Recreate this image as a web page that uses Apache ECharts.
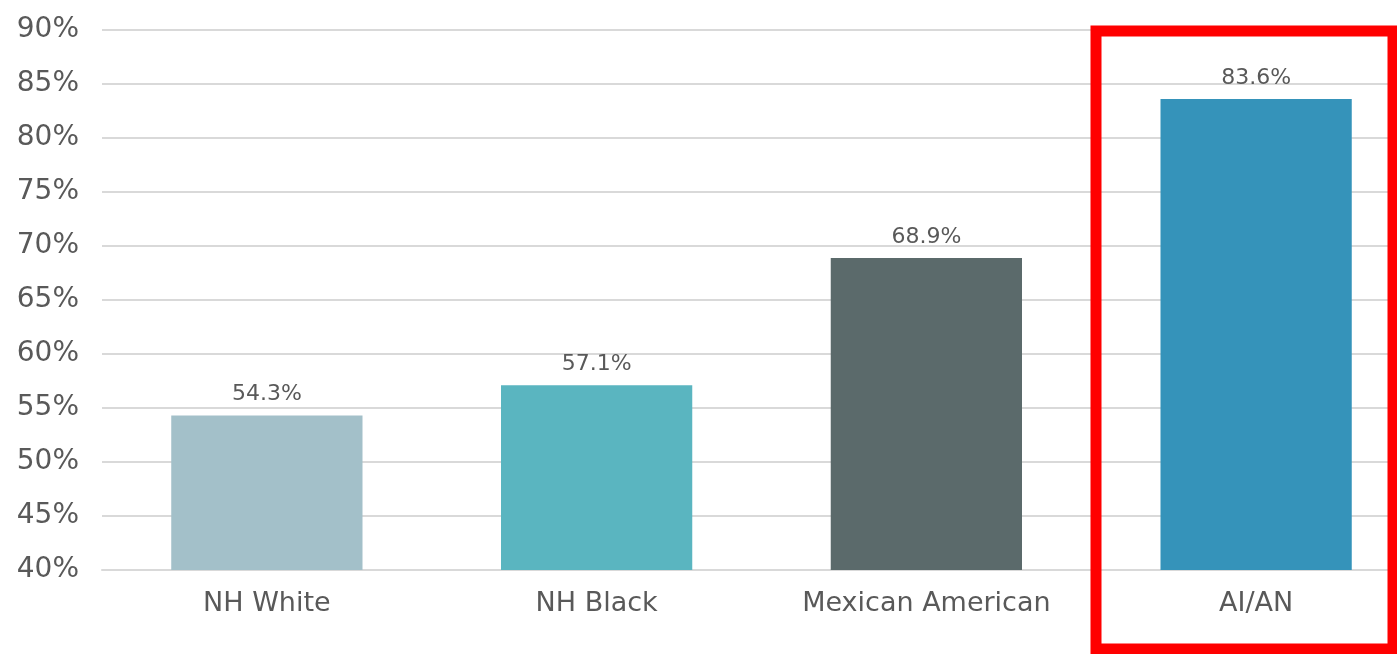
<!DOCTYPE html>
<html>
<head>
<meta charset="utf-8">
<style>html,body{margin:0;padding:0;background:#fff;overflow:hidden;width:1397px;height:654px;}#chart{width:1421px;height:654px;}</style>
<script src="https://cdn.jsdelivr.net/npm/echarts@6/dist/echarts.min.js"></script>
</head>
<body>
<div id="chart"></div>
<script>
var categories = ['NH White', 'NH Black', 'Mexican American', 'AI/AN'];
var values = [54.3, 57.1, 68.9, 83.6];
var barColors = ['#a3c0c9', '#5ab5c0', '#5b6a6b', '#3593ba'];
var yTicks = { min: 40, max: 90, interval: 5 };

var chart = echarts.init(document.getElementById('chart'));
chart.setOption({
  animation: false,
  grid: { left: 102, right: 0, top: 30, bottom: 84, containLabel: false },
  xAxis: {
    type: 'category',
    data: categories,
    axisLine: { show: true, lineStyle: { color: '#d9d9d9', width: 2 } },
    axisTick: { show: false },
    axisLabel: { color: '#595959', fontSize: 27, fontFamily: 'DejaVu Sans', margin: 20 }
  },
  yAxis: {
    type: 'value',
    min: yTicks.min, max: yTicks.max, interval: yTicks.interval,
    axisLine: { show: false },
    axisTick: { show: false },
    splitLine: { lineStyle: { color: '#d9d9d9', width: 2 } },
    axisLabel: { color: '#595959', fontSize: 28, fontFamily: 'DejaVu Sans', margin: 23, formatter: '{value}%' }
  },
  series: [{
    type: 'bar',
    barWidth: '58%',
    data: values.map(function (v, i) { return { value: v, itemStyle: { color: barColors[i] } }; }),
    label: {
      show: true, position: 'top', distance: 10,
      color: '#595959', fontSize: 22, fontFamily: 'DejaVu Sans',
      formatter: function (p) { return p.value.toFixed(1) + '%'; }
    }
  }],
  graphic: [{
    type: 'rect',
    shape: { x: 1096, y: 31, width: 297, height: 618 },
    style: { fill: 'none', stroke: '#ff0000', lineWidth: 11 },
    z: 100
  }]
});
</script>
</body>
</html>
